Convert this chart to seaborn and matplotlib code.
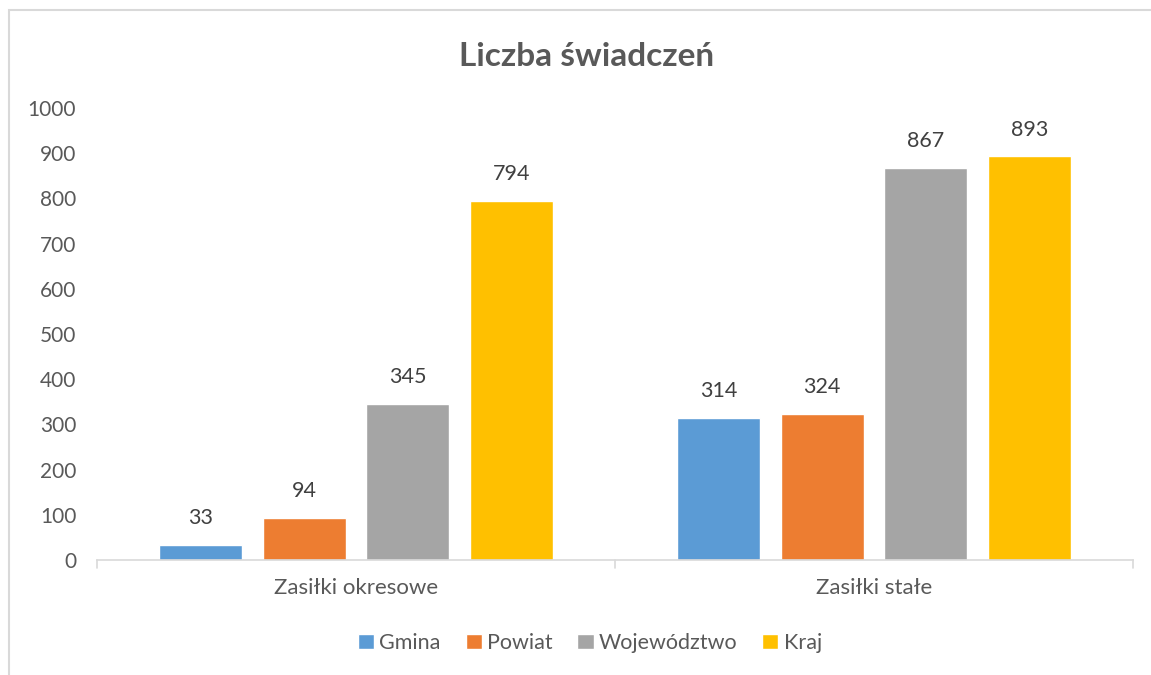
import pandas as pd
import seaborn as sns
import matplotlib.pyplot as plt
from matplotlib.patches import Rectangle

categories = ["Zasiłki okresowe", "Zasiłki stałe"]
series = ["Gmina", "Powiat", "Województwo", "Kraj"]
gmina = [33, 314]
powiat = [94, 324]
wojewodztwo = [345, 867]
kraj = [794, 893]
colors = ["#5B9BD5", "#ED7D31", "#A5A5A5", "#FFC000"]

rows = []
for name, vals in zip(series, [gmina, powiat, wojewodztwo, kraj]):
    for cat, v in zip(categories, vals):
        rows.append({"kategoria": cat, "seria": name, "wartosc": v})
df = pd.DataFrame(rows)

sns.set_theme(style="white")
plt.rcParams["font.family"] = ["Lato", "DejaVu Sans"]
txt = "#595959"

fig = plt.figure(figsize=(11.51, 6.75), dpi=100)
fig.patches.append(Rectangle((9 / 1151, -0.1), 1.2, 1 - 10 / 675 + 0.1,
                             transform=fig.transFigure, fill=False,
                             edgecolor="#D9D9D9", linewidth=1.5))
ax = fig.add_axes([97 / 1151, 1 - 560 / 675, (1133 - 97) / 1151, (560 - 108) / 675])

sns.barplot(data=df, x="kategoria", y="wartosc", hue="seria", palette=colors,
            width=0.8, gap=0.2, ax=ax, legend=True, saturation=1)

for cont in ax.containers:
    ax.bar_label(cont, padding=12, fontsize=15.5, color="#404040")

ax.set_ylim(0, 1000)
ax.set_xlim(-0.5, 1.5)
ax.set_yticks(range(0, 1001, 100))
ax.tick_params(axis="y", labelsize=15, colors=txt, length=0, pad=15)
ax.tick_params(axis="x", labelsize=16, colors=txt, length=0, pad=13)
ax.set_xlabel("")
ax.set_ylabel("")
for s in ["top", "right", "left"]:
    ax.spines[s].set_visible(False)
ax.spines["bottom"].set_color("#D9D9D9")
ax.spines["bottom"].set_linewidth(1.2)
for xpos in [-0.5, 0.5, 1.5]:
    ax.plot([xpos, xpos], [0, -18], color="#D9D9D9", lw=1.2, clip_on=False)

handles, labels = ax.get_legend_handles_labels()
ax.get_legend().remove()
fig.legend(handles, labels, loc="center", bbox_to_anchor=(590 / 1151, 1 - 643 / 675),
           ncol=4, frameon=False, fontsize=15.5, labelcolor=txt,
           handlelength=0.75, handleheight=0.75, handletextpad=0.25, columnspacing=1.15)

fig.text(587 / 1151, 1 - 57 / 675, "Liczba świadczeń", ha="center", va="center",
         fontsize=24, fontweight="bold", color=txt)

fig.savefig("out.png", dpi=100, facecolor="white")
